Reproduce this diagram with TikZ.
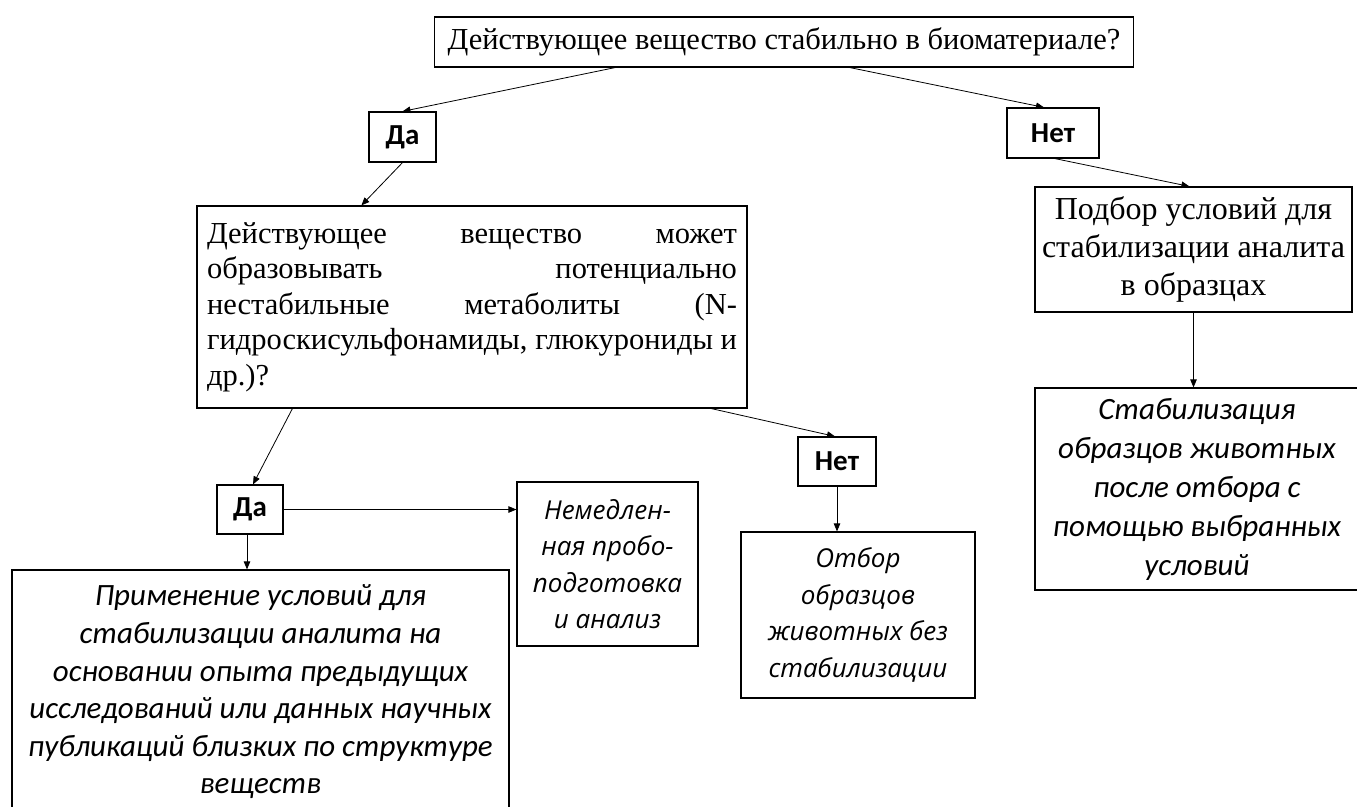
\documentclass[tikz,border=0pt]{standalone}
\usepackage{fontspec}
\setmainfont{Liberation Serif}
\newfontfamily\calfont{Carlito}
\newfontfamily\opfont{Open Sans}
\usetikzlibrary{arrows.meta,calc}

\begin{document}
\begin{tikzpicture}[x=1pt,y=-1pt,
  frame/.style={draw=black, line width=1.2pt, inner sep=0pt, align=center},
  serif/.style={font=\fontsize{30.5}{35.5}\selectfont},
  serifbig/.style={font=\fontsize{32}{38}\selectfont},
  answer/.style={frame, font=\calfont\bfseries\fontsize{29}{34}\selectfont},
  ital/.style={font=\calfont\itshape\fontsize{31}{37.6}\selectfont},
  italwide/.style={font=\opfont\itshape\fontsize{26}{36.5}\selectfont},
  conn/.style={-{Triangle[length=8pt,width=6.5pt]}, line width=0.8pt}]

\useasboundingbox (0,0) rectangle (1357,806);
\clip (0,0) rectangle (1357,806);

% top question
\node[frame, serif, anchor=west, inner xsep=13pt, minimum height=50pt]
  (q1) at (434,42) {Действующее вещество стабильно в биоматериале?};

% first-level answers
\node[answer, minimum width=67pt, minimum height=50pt] (yes1) at (402.5,137) {Да};
\node[answer, minimum width=92pt, minimum height=50pt] (no1) at (1053,133) {Нет};

% second question (justified)
\node[frame, serif, minimum width=550pt, minimum height=202pt,
      text width=530pt, align=left] (q2) at (472,307)
  {Действующее\hfill вещество\hfill может\\
   образовывать\hfill потенциально\\
   нестабильные\hfill метаболиты\hfill (N-\\
   гидроскисульфонамиды,\hfill глюкурониды\hfill и\\
   др.)?};

% right branch
\node[frame, serifbig, minimum width=317pt, minimum height=125pt] (sel) at (1193.5,249.5)
  {Подбор условий для\\стабилизации аналита\\в образцах};
\node[frame, ital, font=\calfont\itshape\fontsize{31}{39}\selectfont,
      minimum width=324pt, minimum height=202pt] (stab) at (1197,489)
  {Стабилизация\\образцов животных\\после отбора с\\помощью выбранных\\условий};

% second-level answers
\node[answer, minimum width=66pt, minimum height=49pt] (yes2) at (250,509.5) {Да};
\node[answer, minimum width=78pt, minimum height=49pt] (no2) at (837,461.5) {Нет};

% outcomes
\node[frame, ital, minimum width=497pt, minimum height=244pt] (app) at (260.5,692)
  {Применение условий для\\стабилизации аналита на\\основании опыта предыдущих\\исследований или данных научных\\публикаций близких по структуре\\веществ};
\node[frame, italwide, minimum width=181pt, minimum height=164pt] (imm) at (607.5,564)
  {Немедлен-\\ная пробо-\\подготовка\\и анализ};
\node[frame, italwide, minimum width=234pt, minimum height=166pt] (sel2) at (858,615)
  {Отбор\\образцов\\животных без\\стабилизации};

% connectors
\draw[conn] ([xshift=181pt]q1.south west) -- (yes1.north);
\draw[conn] ([xshift=416pt]q1.south west) -- ([xshift=-9pt]no1.north);
\draw[conn] (yes1.south) -- ([xshift=165pt]q2.north west);
\draw[conn] ([xshift=2pt]no1.south) -- ([xshift=155pt]sel.north west);
\draw[conn] (sel.south) -- (sel.south |- stab.north);
\draw[conn] ([xshift=96pt]q2.south west) -- ([xshift=3pt]yes2.north);
\draw[conn] ([xshift=515pt]q2.south west) -- ([xshift=-2pt]no2.north);
\draw[conn] ([xshift=-3pt]yes2.south) coordinate (d) -- (d |- app.north);
\draw[conn] (yes2.east) -- (yes2.east -| imm.west);
\draw[conn] (no2.south) -- (no2.south |- sel2.north);
\end{tikzpicture}
\end{document}
